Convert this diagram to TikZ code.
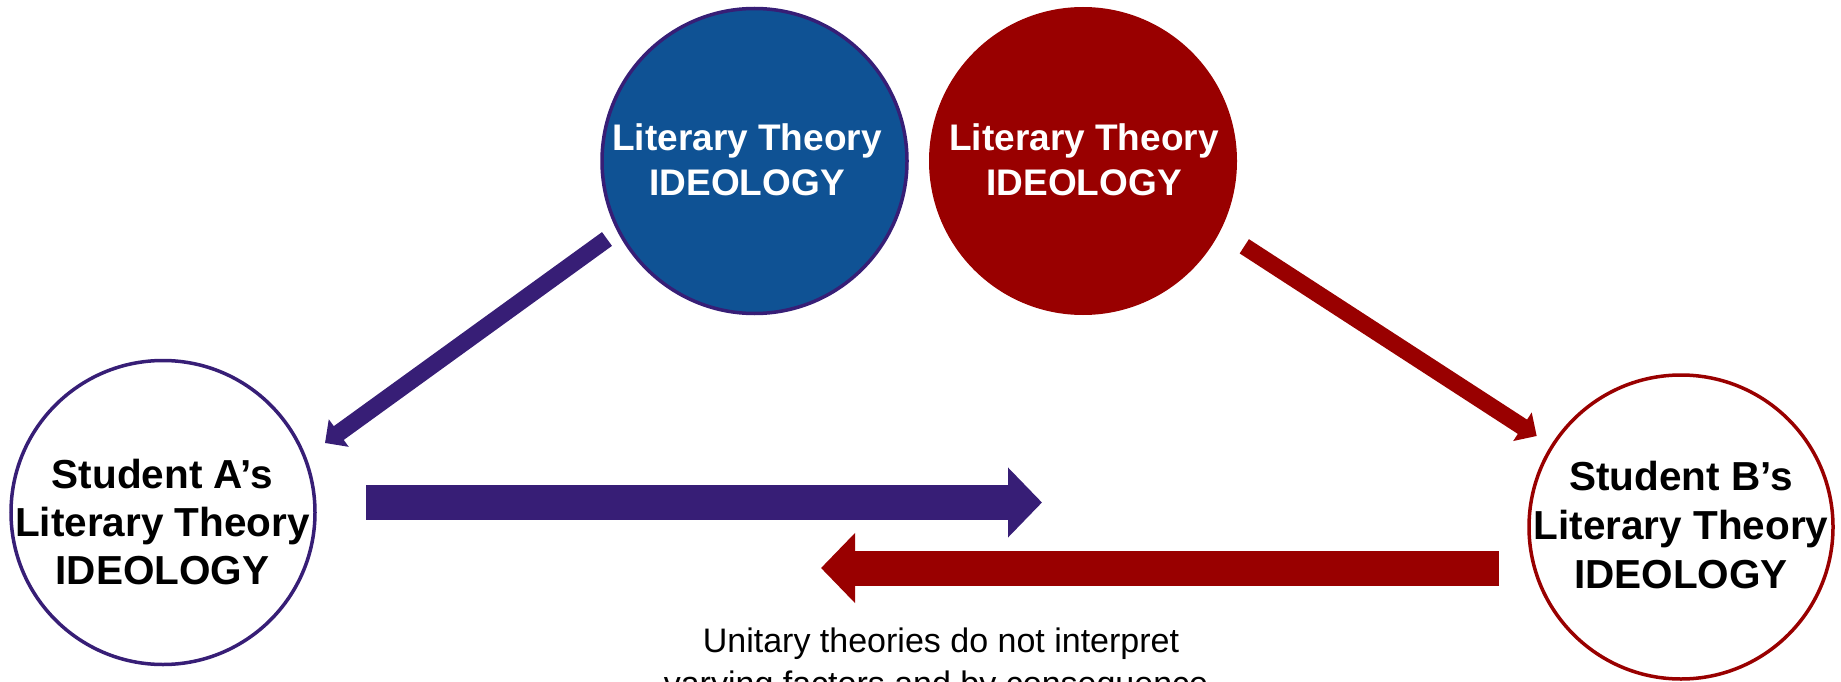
\documentclass[tikz,border=0pt]{standalone}
\usepackage{fontspec}
\setmainfont{Liberation Sans}
\usetikzlibrary{arrows.meta}
\definecolor{ideopurple}{RGB}{55,30,118}
\definecolor{ideoblue}{RGB}{15,82,148}
\definecolor{ideored}{RGB}{153,0,0}

\begin{document}
\begin{tikzpicture}[x=1pt,y=-1pt,
  bubble/.style={circle, minimum size=#1, inner sep=0pt, line width=3.5pt},
  toptext/.style={anchor=base, inner sep=0pt, text=white,
    font=\fontsize{37}{44}\selectfont\bfseries},
  studtext/.style={anchor=base, inner sep=0pt, text=black,
    font=\fontsize{40.5}{48}\selectfont\bfseries},
  notetext/.style={anchor=base, inner sep=0pt, text=black,
    font=\fontsize{34}{42}\selectfont},
  slant/.style={line width=17pt, -{Triangle[length=17pt, width=33pt]}},
  flat/.style={line width=35pt, -{Triangle[length=34pt, width=68pt]}}
]
\useasboundingbox (0,0) rectangle (1841,682);
\clip (0,0) rectangle (1841,682);

% the two ideology bubbles at the top
\node[bubble=305pt, draw=ideopurple, fill=ideoblue] (ideoA) at (754.5,161) {};
\node[bubble=308pt, fill=ideored] (ideoB) at (1083,161) {};
\node[toptext] (ideoA1) at (747,150) {Literary Theory};
\node[toptext] (ideoA2) at (747,195) {IDEOLOGY};
\node[toptext] (ideoB1) at (1084,150) {Literary Theory};
\node[toptext] (ideoB2) at (1084,195) {IDEOLOGY};

% the two students
\node[bubble=304pt, draw=ideopurple, fill=white] (studA) at (163,512.5) {};
\node[bubble=304pt, draw=ideored, fill=white] (studB) at (1681,527) {};
\node[studtext] (studA1) at (162.5,488) {Student A’s};
\node[studtext] (studA2) at (162.5,536) {Literary Theory};
\node[studtext] (studA3) at (162.5,584) {IDEOLOGY};
\node[studtext] (studB1) at (1681,490) {Student B’s};
\node[studtext] (studB2) at (1681,539) {Literary Theory};
\node[studtext] (studB3) at (1681,588) {IDEOLOGY};

% arrow end points
\coordinate (slantAs) at (607,239);
\coordinate (slantAe) at (325,443);
\coordinate (slantBs) at (1244.3,246.3);
\coordinate (slantBe) at (1536.7,436);
\coordinate (flatAs) at (366,502.5);
\coordinate (flatAe) at (1042,502.5);
\coordinate (flatBs) at (1499,568);
\coordinate (flatBe) at (821,568);

\draw[slant, ideopurple] (slantAs) -- (slantAe);
\draw[slant, ideored] (slantBs) -- (slantBe);
\draw[flat, ideopurple] (flatAs) -- (flatAe);
\draw[flat, ideored] (flatBs) -- (flatBe);

% caption under the arrows
\node[notetext] (note1) at (941,652) {Unitary theories do not interpret};
\node[notetext] (note2) at (936,695) {varying factors and by consequence};
\end{tikzpicture}
\end{document}
